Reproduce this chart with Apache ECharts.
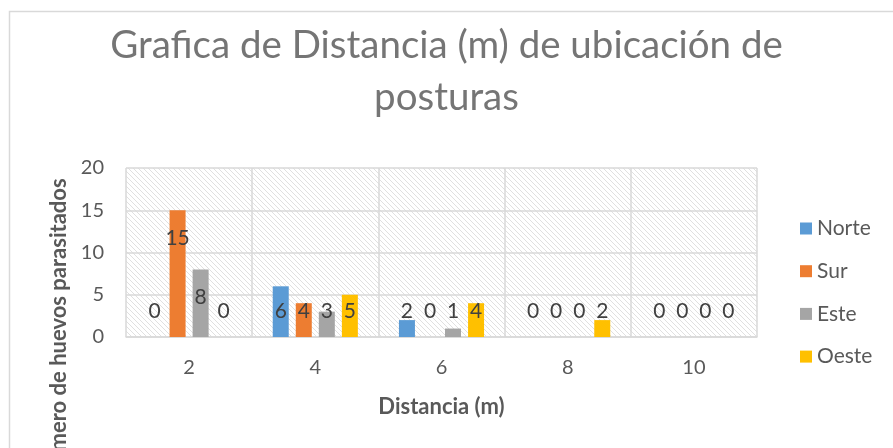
<!DOCTYPE html>
<html>
<head>
<meta charset="utf-8">
<title>Grafica de Distancia</title>
<script src="https://cdn.jsdelivr.net/npm/echarts@6/dist/echarts.min.js"></script>
<style>
  html, body { margin: 0; padding: 0; background: #fff; }
  #chart { width: 893px; height: 448px; }
</style>
</head>
<body>
<div id="chart"></div>
<script>
// datos de la grafica
var distancias = ['2', '4', '6', '8', '10']
var norte = [0, 6, 2, 0, 0]
var sur = [15, 4, 0, 0, 0]
var este = [8, 3, 1, 0, 0]
var oeste = [0, 5, 4, 2, 0]
var yTicks = [0, 5, 10, 15, 20]

var FONT = 'Lato'
var gris = '#595959'

// fondo rayado del area de trazado
function hatch() {
  var c = document.createElement('canvas')
  c.width = 10
  c.height = 10
  var ctx = c.getContext('2d')
  ctx.fillStyle = '#fff'
  ctx.fillRect(0, 0, 10, 10)
  ctx.fillStyle = '#e0e0e0'
  for (var i = 0; i < 10; i++) {
    ctx.fillRect(i, i, 1, 1)
    ctx.fillRect(i, (i + 5) % 10, 1, 1)
  }
  return c
}

function serie(name, color, vals) {
  return {
    name: name,
    type: 'bar',
    barWidth: 16,
    barGap: '44%',
    itemStyle: { color: color },
    label: {
      show: true,
      color: '#404040',
      fontFamily: FONT,
      fontSize: 21
    },
    // etiqueta dentro del extremo, pero nunca mas abajo que las barras cortas
    data: vals.map(function (v) {
      return {
        value: v,
        label: v > 6 ? { position: 'insideTop', distance: 17 } : { position: 'insideBottom', distance: 15 }
      }
    })
  }
}

var chart = echarts.init(document.getElementById('chart'))
chart.setOption({
  animation: false,
  textStyle: { fontFamily: FONT },
  title: {
    text: 'Grafica de Distancia (m) de ubicación de\nposturas',
    left: 'center',
    top: 15,
    textStyle: {
      fontFamily: FONT,
      fontWeight: 'normal',
      fontSize: 38.5,
      lineHeight: 52,
      color: '#757575'
    }
  },
  graphic: [{
    type: 'rect',
    shape: { x: 9.5, y: 11.5, width: 1000, height: 1000 },
    style: { fill: 'none', stroke: '#d9d9d9', lineWidth: 1.5 },
    silent: true
  }],
  legend: {
    orient: 'vertical',
    left: 800,
    top: 218,
    padding: 0,
    icon: 'rect',
    itemWidth: 12,
    itemHeight: 12,
    itemGap: 21.7,
    textStyle: { color: gris, fontFamily: FONT, fontSize: 21, lineHeight: 20 },
    data: ['Norte', 'Sur', 'Este', 'Oeste']
  },
  grid: {
    left: 126,
    right: 136,
    top: 168,
    bottom: 111,
    outerBoundsMode: 'none',
    show: true,
    borderWidth: 0,
    backgroundColor: { image: hatch(), repeat: 'repeat' }
  },
  xAxis: {
    type: 'category',
    data: distancias,
    name: 'Distancia (m)',
    nameLocation: 'middle',
    nameGap: 59,
    nameTextStyle: { color: gris, fontFamily: FONT, fontSize: 22, fontWeight: 'bold' },
    axisLine: { lineStyle: { color: '#d9d9d9', width: 1.5 } },
    axisTick: { show: false },
    axisLabel: { color: gris, fontSize: 20, margin: 21 },
    splitLine: { show: true, lineStyle: { color: '#d9d9d9', width: 1.5 } }
  },
  yAxis: {
    type: 'value',
    min: yTicks[0],
    max: yTicks[yTicks.length - 1],
    interval: yTicks[1] - yTicks[0],
    name: 'Número de huevos parasitados',
    nameLocation: 'middle',
    nameRotate: 90,
    nameGap: 54,
    nameTextStyle: {
      color: gris, fontFamily: FONT, fontSize: 22, fontWeight: 'bold',
      padding: [0, 154, 0, 0]
    },
    axisLine: { show: false },
    axisTick: { show: false },
    axisLabel: { color: gris, fontSize: 20, margin: 22 },
    splitLine: { lineStyle: { color: '#d9d9d9', width: 1.5 } }
  },
  series: [
    serie('Norte', '#5b9bd5', norte),
    serie('Sur', '#ed7d31', sur),
    serie('Este', '#a5a5a5', este),
    serie('Oeste', '#ffc000', oeste)
  ]
})
</script>
</body>
</html>
